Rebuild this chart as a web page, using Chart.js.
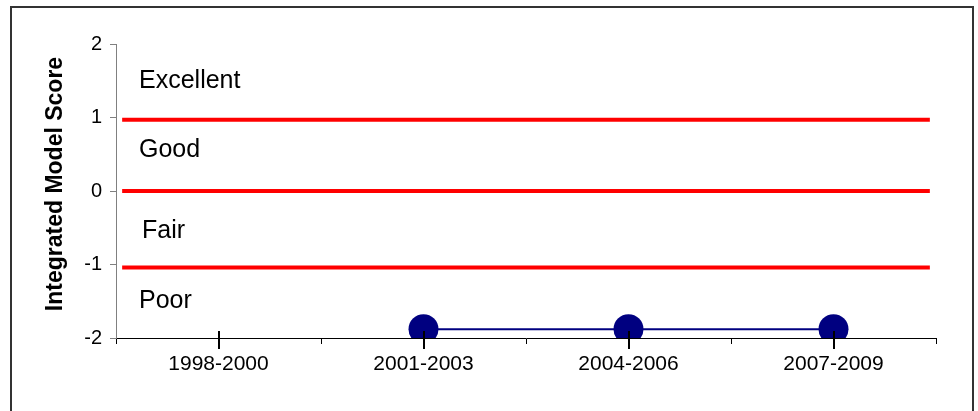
<!DOCTYPE html>
<html>
<head>
<meta charset="utf-8">
<script src="https://cdn.jsdelivr.net/npm/chart.js@4.4.0/dist/chart.umd.min.js"></script>
<style>
  html, body { margin: 0; padding: 0; background: #fff; }
  canvas { display: block; }
</style>
</head>
<body>
<canvas id="scoreChart" width="978" height="411"></canvas>
<script>
// data
const categories = ["1998-2000", "2001-2003", "2004-2006", "2007-2009"];
const scores = [null, -1.88, -1.88, -1.88];
const thresholds = [0.97, 0, -1.04];
const bandLabels = ["Excellent", "Good", "Fair", "Poor"];
const bandLabelValues = [1.5, 0.55, -0.55, -1.5];
const yTicks = [-2, -1, 0, 1, 2];

const FONT = "'Liberation Sans', Arial, sans-serif";

// red threshold lines drawn on a hidden linear x axis (0..4 spans the plot)
const thresholdSets = thresholds.map(t => ({
    data: [{ x: 0.03, y: t }, { x: 3.97, y: t }],
    xAxisID: "x2",
    borderColor: "#ff0000",
    borderWidth: 4,
    pointRadius: 0,
    fill: false
}));

const extras = {
    id: "extras",
    beforeDraw(chart) {
        const ctx = chart.ctx;
        ctx.save();
        ctx.fillStyle = "#fff";
        ctx.fillRect(0, 0, chart.width, chart.height);
        ctx.strokeStyle = "#333";
        ctx.lineWidth = 2;
        ctx.strokeRect(11, 7, 962, 430);
        ctx.restore();
    },
    afterDatasetsDraw(chart) {
        const { ctx, scales: { x, y } } = chart;
        ctx.save();
        // category tick marks crossing the axis
        const base = y.getPixelForValue(-2);
        ctx.strokeStyle = "#000";
        ctx.lineWidth = 2;
        categories.forEach((c, i) => {
            const px = Math.round(x.getPixelForValue(i));
            ctx.beginPath();
            ctx.moveTo(px, base - 7);
            ctx.lineTo(px, base + 11);
            ctx.stroke();
        });
        // band labels
        ctx.fillStyle = "#000";
        ctx.font = "25px " + FONT;
        ctx.textBaseline = "middle";
        bandLabels.forEach((lab, i) => {
            const off = lab === "Fair" ? 26 : 23;
            ctx.fillText(lab, x.left + off, y.getPixelForValue(bandLabelValues[i]));
        });
        // axis title
        ctx.font = "bold 23px " + FONT;
        ctx.textAlign = "center";
        ctx.translate(56, 184);
        ctx.rotate(-Math.PI / 2);
        ctx.fillText("Integrated Model Score", 0, 0);
        ctx.restore();
    }
};

new Chart(document.getElementById("scoreChart"), {
    type: "line",
    data: {
        labels: categories,
        datasets: [
            ...thresholdSets,
            {
                data: scores,
                xAxisID: "x",
                borderColor: "#000080",
                borderWidth: 2,
                pointRadius: 15,
                pointBackgroundColor: "#000080",
                pointBorderColor: "#000080",
                pointBorderWidth: 0,
                spanGaps: false
            }
        ]
    },
    options: {
        responsive: false,
        animation: false,
        devicePixelRatio: 1,
        layout: { padding: { left: 0, top: 44, right: 42, bottom: 0 } },
        plugins: { legend: { display: false }, tooltip: { enabled: false } },
        scales: {
            x: {
                type: "category",
                offset: true,
                afterFit: s => { s.height = 73; },
                grid: { offset: true, drawOnChartArea: false, tickLength: 6, color: "#000", lineWidth: 1 },
                border: { color: "#000", width: 1 },
                ticks: { color: "#000", font: { family: FONT, size: 21 }, padding: 8, maxRotation: 0 }
            },
            x2: { type: "linear", min: 0, max: 4, display: false },
            y: {
                min: -2,
                max: 2,
                afterFit: s => { s.width = 116; },
                afterBuildTicks: s => { s.ticks = yTicks.map(v => ({ value: v })); },
                grid: { drawOnChartArea: false, tickLength: 6, color: "#808080" },
                border: { color: "#808080", width: 1 },
                ticks: { color: "#000", font: { family: FONT, size: 20 }, padding: 8 }
            }
        }
    },
    plugins: [extras]
});
</script>
</body>
</html>
